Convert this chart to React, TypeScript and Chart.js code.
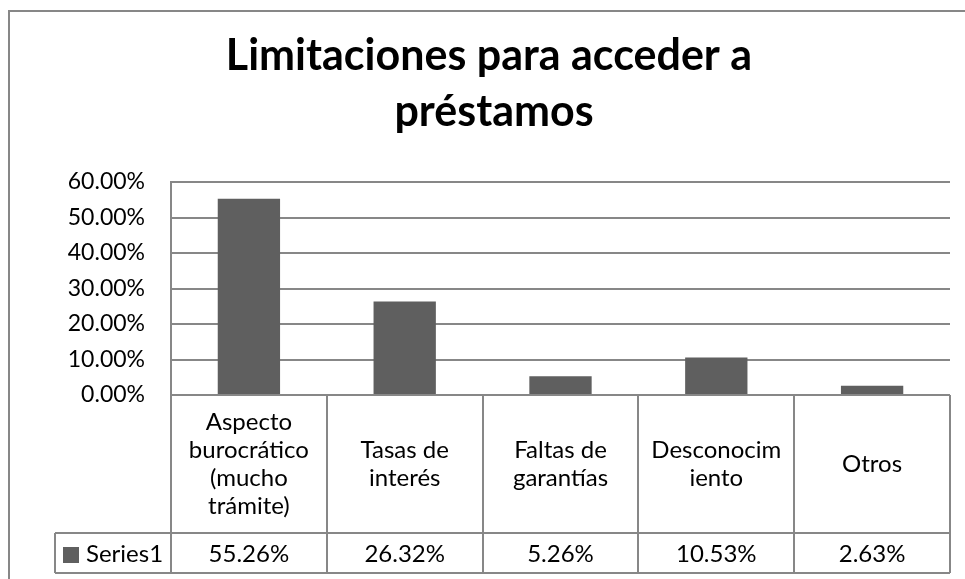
import React, { useEffect, useRef } from "react";
import { Chart, registerables } from "chart.js";

Chart.register(...registerables);

const titleLines = ["Limitaciones para acceder a", "préstamos"];
const categoryLines: string[][] = [
  ["Aspecto", "burocrático", "(mucho", "trámite)"],
  ["Tasas de", "interés"],
  ["Faltas de", "garantías"],
  ["Desconocim", "iento"],
  ["Otros"],
];
const seriesName = "Series1";
const seriesValues = [0.5526, 0.2632, 0.0526, 0.1053, 0.0263];
const yMax = 0.6;
const yStep = 0.1;

const FONT = "Lato, 'Noto Sans', sans-serif";
const GRID = "#878787";
const BAR = "#5f5f5f";
const FS = 24;

const fmtPct = (v: number) => (v * 100).toFixed(2) + "%";

const tablePlugin = {
  id: "dataTable",
  afterDraw(chart: any) {
    const ctx = chart.ctx as CanvasRenderingContext2D;
    const area = chart.chartArea;
    const xs = chart.scales.x;
    const n = categoryLines.length;
    const colW = (area.right - area.left) / n;
    const tableTop = area.bottom;
    const catBottom = 533;
    const valBottom = 573;
    const labelLeft = 55;

    ctx.save();
    // frame
    ctx.strokeStyle = GRID;
    ctx.lineWidth = 2;
    ctx.beginPath();
    ctx.moveTo(9, 600);
    ctx.lineTo(9, 11);
    ctx.lineTo(990, 11);
    ctx.stroke();

    // title
    ctx.fillStyle = "#000";
    ctx.textAlign = "center";
    ctx.textBaseline = "middle";
    ctx.font = `bold 43px ${FONT}`;
    ctx.fillText(titleLines[0], 489, 56);
    ctx.fillText(titleLines[1], 494, 112);

    // table lines
    ctx.strokeStyle = GRID;
    ctx.lineWidth = 2;
    ctx.beginPath();
    for (let i = 0; i <= n; i++) {
      const x = Math.round(area.left + i * colW);
      ctx.moveTo(x, tableTop);
      ctx.lineTo(x, valBottom);
    }
    ctx.moveTo(labelLeft, catBottom);
    ctx.lineTo(area.right, catBottom);
    ctx.moveTo(labelLeft, valBottom);
    ctx.lineTo(area.right, valBottom);
    ctx.moveTo(labelLeft, catBottom);
    ctx.lineTo(labelLeft, valBottom);
    ctx.stroke();

    // category text
    ctx.fillStyle = "#000";
    ctx.font = `${FS}px ${FONT}`;
    const lh = 28;
    for (let i = 0; i < n; i++) {
      const cx = xs.getPixelForValue(i);
      const lines = categoryLines[i];
      const cy = (tableTop + catBottom) / 2;
      const start = cy - ((lines.length - 1) * lh) / 2;
      lines.forEach((ln, j) => ctx.fillText(ln, cx, start + j * lh));
      ctx.fillText(fmtPct(seriesValues[i]), cx, (catBottom + valBottom) / 2 + 1);
    }

    // legend key + series name
    ctx.fillStyle = BAR;
    ctx.fillRect(63, 547, 16, 16);
    ctx.fillStyle = "#000";
    ctx.textAlign = "left";
    ctx.fillText(seriesName, 86, (catBottom + valBottom) / 2 + 1);
    ctx.restore();
  },
};

export default function App() {
  const ref = useRef<HTMLCanvasElement>(null);
  useEffect(() => {
    if (!ref.current) return;
    const chart = new Chart(ref.current, {
      type: "bar",
      data: {
        labels: categoryLines.map((l) => l.join(" ")),
        datasets: [
          {
            label: seriesName,
            data: seriesValues,
            backgroundColor: BAR,
            borderWidth: 0,
            barPercentage: 0.4,
            categoryPercentage: 1,
          },
        ],
      },
      options: {
        responsive: false,
        animation: false,
        layout: { padding: { left: 0, top: 182, right: 15, bottom: 184 } },
        plugins: {
          legend: { display: false },
          title: { display: false },
          tooltip: { enabled: false },
        },
        scales: {
          x: { display: false },
          y: {
            min: 0,
            max: yMax,
            afterFit: (s: any) => {
              s.width = 171;
            },
            ticks: {
              stepSize: yStep,
              padding: 26,
              color: "#000",
              font: { family: FONT, size: 23 },
              callback: (v: any) => fmtPct(Number(v)),
            },
            grid: { color: GRID, lineWidth: 2, drawTicks: false },
            border: { color: GRID, width: 2 },
          },
        },
      },
      plugins: [tablePlugin],
    });
    return () => chart.destroy();
  }, []);
  return (
    <div style={{ position: "absolute", left: 0, top: 0, width: 965, height: 579, background: "#fff" }}>
      <canvas ref={ref} width={965} height={579} style={{ display: "block" }} />
    </div>
  );
}
